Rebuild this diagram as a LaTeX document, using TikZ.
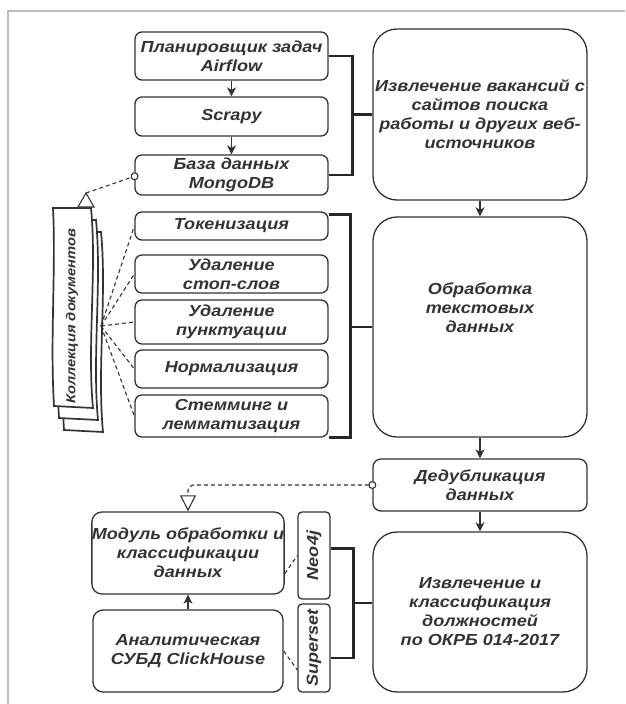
\documentclass[tikz,border=0pt]{standalone}
\usepackage{fontspec}
\setmainfont{Liberation Sans}
\newfontfamily\diafont[FakeStretch=1.13]{Liberation Sans}
\usetikzlibrary{arrows.meta}
\definecolor{ink}{HTML}{333333}
\definecolor{framegrey}{HTML}{BDBDBD}

\begin{document}
\begin{tikzpicture}[x=1pt,y=-1pt,
    box/.style={draw=ink, line width=1.3pt, rounded corners=7pt, align=center,
      inner sep=0pt, text=ink, font=\diafont\bfseries\itshape\fontsize{16}{19}\selectfont},
    bigbox/.style={box, rounded corners=24pt, minimum width=214pt},
    arrow/.style={draw=ink, line width=1.4pt, -{Stealth[length=9pt,width=9pt,inset=2.5pt]}},
    bracket/.style={draw=black!85, line width=2.6pt},
    link/.style={draw=ink, line width=1.1pt, dash pattern=on 4pt off 3pt}]
  \useasboundingbox (0,0) rectangle (625,704);
  \draw[framegrey, line width=2.5pt] (625,11) -- (8,11) -- (8,704);

  \node[box, minimum width=193pt, minimum height=48pt] (airflow) at (231.5,56) {Планировщик задач\\Airflow};
  \node[box, minimum width=193pt, minimum height=39pt] (scrapy) at (231.5,116.5) {Scrapy};
  \node[box, minimum width=193pt, minimum height=40pt] (mongo) at (231.5,175) {База данных\\MongoDB};
  \node[bigbox, minimum height=171pt] (big1) at (480,114.5) {Извлечение вакансий с\\сайтов поиска\\работы и других веб-\\источников};

  \node[box, minimum width=193pt, minimum height=28pt] (tok) at (231.5,226) {Токенизация};
  \node[box, minimum width=193pt, minimum height=38pt] (stop) at (231.5,274) {Удаление\\стоп-слов};
  \node[box, minimum width=193pt, minimum height=44pt] (punkt) at (231.5,322) {Удаление\\пунктуации};
  \node[box, minimum width=193pt, minimum height=38pt] (norm) at (231.5,369) {Нормализация};
  \node[box, minimum width=193pt, minimum height=42pt] (stem) at (231.5,416) {Стемминг и\\лемматизация};
  \node[bigbox, minimum height=220pt] (big2) at (480,327) {Обработка\\текстовых\\данных\\[19pt]~};

  \node[box, rounded corners=8pt, minimum width=214pt, minimum height=52pt] (dedup) at (480,485) {Дедубликация\\данных};
  \node[bigbox, minimum height=160pt] (big3) at (480,612) {Извлечение и\\классификация\\должностей\\по ОКРБ 014-2017};
  \node[box, rounded corners=10pt, minimum width=190pt, minimum height=82pt] (modul) at (188,553) {Модуль обработки и\\классификации\\данных};
  \node[box, rounded corners=10pt, minimum width=190pt, minimum height=82pt] (click) at (188,651) {Аналитическая\\СУБД ClickHouse};
  \node[box, rounded corners=4pt, rotate=90, minimum width=87pt, minimum height=32pt] (neo) at (314,555.5) {Neo4j};
  \node[box, rounded corners=4pt, rotate=90, minimum width=88pt, minimum height=32pt] (superset) at (314,648) {Superset};

  \foreach \s in {10,5,0}
    \draw[ink, line width=1.7pt, fill=white, shift={(\s,2.4*\s)}]
      (53,208) -- (91,208) .. controls (97,270) and (87,345) .. (93,408)
      -- (54,406) .. controls (50,340) and (56,270) .. cycle;
  \node[rotate=90, text=ink, font=\diafont\bfseries\itshape\fontsize{13}{15}\selectfont] (docs) at (72,316) {Коллекция документов};
  \coordinate (fan) at (101,326);
  \coordinate (apex) at (86,193);
  \draw[ink, line width=1.1pt, fill=white] (78,207) -- (94,207) -- (apex) -- cycle;

  \draw[arrow] (airflow) -- (scrapy);
  \draw[arrow] (scrapy) -- (mongo);
  \draw[arrow] (big1) -- (big2);
  \draw[arrow] (big2) -- (dedup);
  \draw[arrow] (dedup) -- (big3);
  \draw[arrow] (click) -- (modul);

  \draw[bracket] (airflow.east) -- ++(24,0) |- (mongo.east);
  \draw[bracket] (big1.west) -- ++(-21,0);
  \draw[bracket] ([yshift=-3pt]tok.north east) -- ++(22,0) |- (stem.south east);
  \draw[bracket] (big2.west) -- ++(-23,0);
  \draw[bracket] ([yshift=7pt]neo.south) -- ++(23,0) |- ([yshift=-10pt]superset.south);
  \draw[bracket] ([yshift=9pt]big3.west) -- ++(-20,0);

  \foreach \b in {tok,stop,punkt,norm,stem}
    \draw[link] (fan) -- (\b.west);
  \draw[link, -{Circle[open,length=8pt,fill=white]}] (apex) -- ([xshift=4pt]mongo.west);
  \draw[link, rounded corners=6pt, {Circle[open,length=8pt,fill=white]}-{Triangle[open,length=16pt,width=16pt,fill=white]}]
    ([xshift=4pt]dedup.west) -| (modul.north);
  \draw[link] (modul.-12) -- (neo.north);
  \draw[link] (click.east) -- ([yshift=-22pt]superset.north);
\end{tikzpicture}
\end{document}
